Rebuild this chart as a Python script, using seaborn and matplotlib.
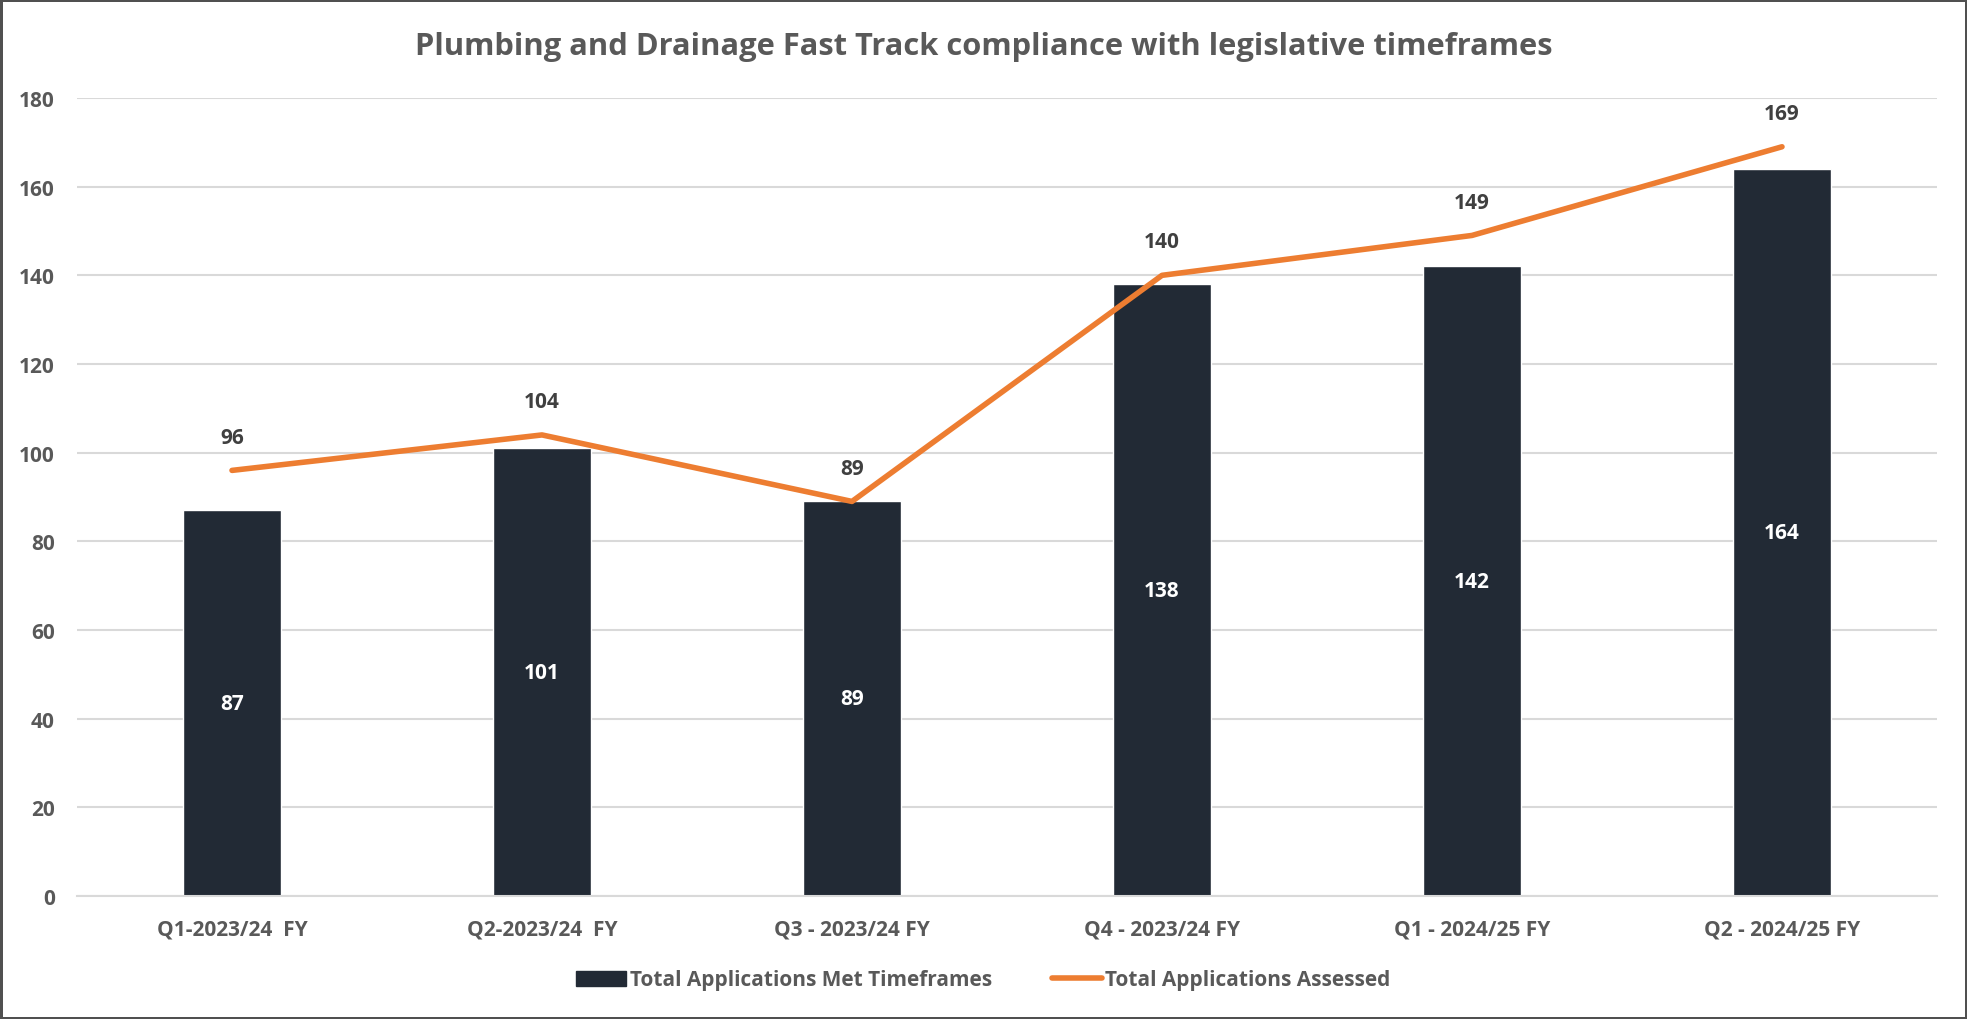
import matplotlib
matplotlib.use("Agg")
import matplotlib.pyplot as plt
from matplotlib.patches import Patch
from matplotlib.lines import Line2D
import seaborn as sns
import pandas as pd

categories = ["Q1-2023/24  FY", "Q2-2023/24  FY", "Q3 - 2023/24 FY",
              "Q4 - 2023/24 FY", "Q1 - 2024/25 FY", "Q2 - 2024/25 FY"]
met_timeframes = [87, 101, 89, 138, 142, 164]
assessed = [96, 104, 89, 140, 149, 169]
yticks = [0, 20, 40, 60, 80, 100, 120, 140, 160, 180]
title = "Plumbing and Drainage Fast Track compliance with legislative timeframes"
bar_label = "Total Applications Met Timeframes"
line_label = "Total Applications Assessed"

BAR = "#222A35"
LINE = "#ED7D31"
TXT = "#595959"
DARK = "#404040"
GRID = "#D9D9D9"

sns.set_theme(style="white")
plt.rcParams['font.family'] = ['Open Sans', 'DejaVu Sans']
plt.rcParams['font.weight'] = 'bold'

FS = 15

df = pd.DataFrame({"cat": categories, "met": met_timeframes, "assessed": assessed})

fig = plt.figure(figsize=(19.67, 10.20), dpi=100)
fig.patch.set_facecolor("white")
fig.patch.set_edgecolor("#505050")
fig.patch.set_linewidth(2.5)
ax = fig.add_axes([77/1967, 1 - 897/1020, 1860/1967, (897 - 99)/1020])

sns.barplot(data=df, x="cat", y="met", color=BAR, width=0.313, ax=ax,
            saturation=1, zorder=2)
sns.lineplot(data=df, x="cat", y="assessed", color=LINE, linewidth=4,
             sort=False, ax=ax, zorder=3)

ax.set_xlim(-0.5, len(categories) - 0.5)
ax.set_ylim(0, 180)
ax.set_yticks(yticks)
ax.yaxis.grid(True, color=GRID, linewidth=1.5, zorder=0)
ax.set_axisbelow(True)
for s in ["top", "right", "left"]:
    ax.spines[s].set_visible(False)
ax.spines["bottom"].set_color(GRID)
ax.spines["bottom"].set_linewidth(1.5)
ax.set_xlabel("")
ax.set_ylabel("")
ax.tick_params(axis="y", length=0, pad=16, labelsize=FS, labelcolor=TXT)
ax.tick_params(axis="x", length=0, pad=16, labelsize=FS, labelcolor=TXT)
for lab in ax.get_xticklabels() + ax.get_yticklabels():
    lab.set_fontweight("bold")

for i, v in enumerate(met_timeframes):
    ax.text(i, v / 2, str(v), ha="center", va="center", color="white",
            fontsize=FS, fontweight="bold", zorder=4)
for i, v in enumerate(assessed):
    ax.annotate(str(v), (i, v), xytext=(0, 24), textcoords="offset points",
                ha="center", va="center", color=DARK, fontsize=FS,
                fontweight="bold", annotation_clip=False, zorder=4)

fig.text(0.5, 1 - 47/1020, title, ha="center", va="center", color=TXT,
         fontsize=22.2, fontweight="bold")

handles = [Patch(facecolor=BAR, edgecolor=BAR, label=bar_label),
           Line2D([0], [0], color=LINE, linewidth=4, solid_capstyle="round",
                  label=line_label)]
leg = fig.legend(handles=handles, loc="center", bbox_to_anchor=(0.5, 1 - 981/1020),
                 ncol=2, frameon=False, fontsize=FS, handlelength=2.4,
                 handletextpad=0.15, columnspacing=2.9)
for t in leg.get_texts():
    t.set_color(TXT)
    t.set_fontweight("bold")

fig.savefig("out.png", dpi=100, facecolor="white", edgecolor=fig.get_edgecolor())
